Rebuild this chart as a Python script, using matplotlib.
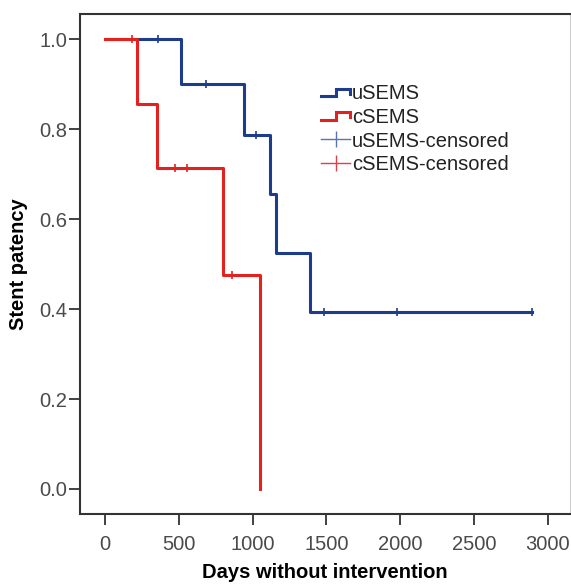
import matplotlib
matplotlib.use("Agg")
import matplotlib.pyplot as plt
from matplotlib.lines import Line2D
from matplotlib.legend_handler import HandlerBase

plt.rcParams['font.family'] = ['Liberation Sans', 'DejaVu Sans']

# ---- Kaplan-Meier step data ----
u_days = [0, 516, 944, 1120, 1161, 1392, 2892]
u_surv = [1.0, 0.9, 0.7875, 0.656, 0.525, 0.394, 0.394]
u_cens_days = [360, 686, 1025, 1487, 1976, 2892]
u_cens_surv = [1.0, 0.9, 0.7875, 0.394, 0.394, 0.394]

c_days = [0, 217, 350, 800, 1052]
c_surv = [1.0, 0.857, 0.714, 0.476, 0.0]
c_cens_days = [183, 475, 555, 862]
c_cens_surv = [1.0, 0.714, 0.714, 0.476]

x_ticks = [0, 500, 1000, 1500, 2000, 2500, 3000]
y_ticks = [0.0, 0.2, 0.4, 0.6, 0.8, 1.0]

BLUE = "#1d3c8c"
RED = "#e3211f"
FS = 14.5


class StepHandler(HandlerBase):
    # little "_|-|" step glyph like SPSS draws in its legend
    def create_artists(self, legend, orig_handle, xdescent, ydescent,
                       width, height, fontsize, trans):
        x0, x1 = -xdescent, -xdescent + width
        lo, hi = -ydescent + 0.2 * height, -ydescent + 0.75 * height
        xm = x0 + 0.5 * width
        ln = Line2D([x0, xm, xm, x1, x1], [lo, lo, hi, hi, lo + 0.2 * height],
                    color=orig_handle.get_color(), lw=orig_handle.get_linewidth(),
                    solid_joinstyle="miter", transform=trans)
        return [ln]


fig = plt.figure(figsize=(5.71, 5.85), dpi=100)
ax = fig.add_axes([0.140, 0.1214, 0.858, 0.855])

ax.step(u_days, u_surv, where="post", color=BLUE, lw=2.2)
ax.step(c_days, c_surv, where="post", color=RED, lw=2.2)
ax.plot(u_cens_days, u_cens_surv, ls="none", marker="|", ms=6, mew=1.2, color=BLUE)
ax.plot(c_cens_days, c_cens_surv, ls="none", marker="|", ms=6, mew=1.2, color=RED)

ax.set_xlim(-169, 3149)
ax.set_ylim(-0.0556, 1.0567)
ax.set_xticks(x_ticks)
ax.set_yticks(y_ticks)
ax.set_yticklabels([f"{v:.1f}" for v in y_ticks])
ax.tick_params(direction="out", length=8, width=1.3, color="#333333",
               labelsize=FS, labelcolor="#4a4a4a")
ax.tick_params(axis="y", pad=1)
ax.tick_params(axis="x", pad=7)

for s in ["left", "bottom", "top"]:
    ax.spines[s].set_color("#333333")
    ax.spines[s].set_linewidth(1.5)
ax.spines["right"].set_color("#cccccc")
ax.spines["right"].set_linewidth(0.8)

ax.set_xlabel("Days without intervention", fontsize=FS, fontweight="bold")
ax.set_ylabel("Stent patency", fontsize=FS, fontweight="bold")
ax.xaxis.set_label_coords(0.5, -0.098)
ax.yaxis.set_label_coords(-0.106, 0.5)

h_u = Line2D([], [], color=BLUE, lw=2.2)
h_c = Line2D([], [], color=RED, lw=2.2)
h_uc = Line2D([], [], color="#5a73b5", lw=1, marker="|", ms=11, mew=1)
h_cc = Line2D([], [], color="#d9414e", lw=1, marker="|", ms=11, mew=1)
fig.legend([h_u, h_c, h_uc, h_cc],
           ["uSEMS", "cSEMS", "uSEMS-censored", "cSEMS-censored"],
           handler_map={h_u: StepHandler(), h_c: StepHandler()},
           loc="upper left", bbox_to_anchor=(0.562, 0.856), frameon=False,
           fontsize=FS, handlelength=1.45, handletextpad=0.1,
           labelspacing=0.23, borderaxespad=0, borderpad=0,
           labelcolor="#222222")

fig.savefig("out.png", dpi=100)
